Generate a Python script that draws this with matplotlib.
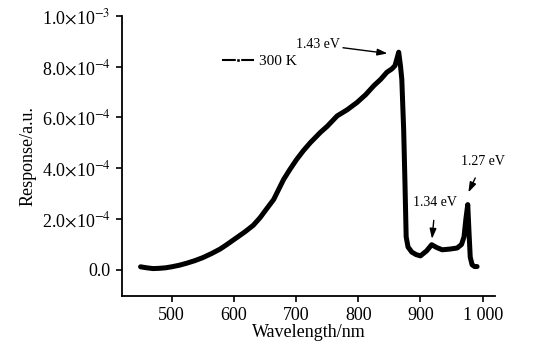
import numpy as np
import matplotlib
matplotlib.use("Agg")
import matplotlib.pyplot as plt
from matplotlib.lines import Line2D

plt.rcParams['font.family'] = ['Liberation Serif', 'DejaVu Serif']
plt.rcParams['mathtext.fontset'] = 'stix'

# spectral response at 300 K (values in units of 1e-4)
wavelength = [450, 460, 470, 480, 490, 500, 512, 524, 537, 550, 564, 578, 589, 600,
              618, 631, 642, 652, 664, 680, 690, 701, 712, 723, 739, 750, 766, 782,
              798, 812, 825, 836, 846, 854, 859, 862, 865, 868, 870, 873, 875, 877,
              880, 886, 893, 900, 910, 918, 926, 935, 948, 959, 966, 970, 973, 976,
              978, 980, 983, 987, 991]
response_e4 = [0.12, 0.08, 0.05, 0.06, 0.08, 0.12, 0.18, 0.26, 0.36, 0.48, 0.64, 0.82,
               1.00, 1.19, 1.50, 1.75, 2.05, 2.38, 2.77, 3.56, 3.95, 4.35, 4.70, 5.01,
               5.41, 5.65, 6.06, 6.30, 6.59, 6.90, 7.25, 7.50, 7.78, 7.91, 8.04, 8.30,
               8.57, 8.00, 7.50, 5.50, 3.50, 1.30, 0.90, 0.70, 0.60, 0.55, 0.75, 0.99,
               0.88, 0.79, 0.82, 0.86, 1.00, 1.30, 2.00, 2.57, 1.50, 0.50, 0.20, 0.13,
               0.13]
response = np.array(response_e4) * 1e-4

xticks = [500, 600, 700, 800, 900, 1000]
xticklabels = ['500', '600', '700', '800', '900', '1 000']
yticks = [0, 2e-4, 4e-4, 6e-4, 8e-4, 1e-3]
yticklabels = ['0.0', r'2.0$\times$10$^{-4}$', r'4.0$\times$10$^{-4}$',
               r'6.0$\times$10$^{-4}$', r'8.0$\times$10$^{-4}$', r'1.0$\times$10$^{-3}$']

# peak annotations: label, text position, arrow head position
peaks = [
    ('1.43 eV', (771, 8.87e-4), (847, 8.52e-4), 'right'),
    ('1.34 eV', (924, 2.64e-4), (918.6, 1.22e-4), 'center'),
    ('1.27 eV', (1001, 4.28e-4), (977, 3.05e-4), 'center'),
]

fig = plt.figure(figsize=(5.37, 3.45), dpi=100)
ax = fig.add_axes([0.227, 0.142, 0.695, 0.812])

ax.plot(wavelength, response, color='black', lw=3.6, solid_capstyle='round',
        solid_joinstyle='round')

ax.set_xlim(420, 1020)
ax.set_ylim(-1.03e-4, 1.0e-3)
ax.set_xticks(xticks)
ax.set_xticklabels(xticklabels)
ax.set_yticks(yticks)
ax.set_yticklabels(yticklabels)

for s in ['top', 'right']:
    ax.spines[s].set_visible(False)
for s in ['left', 'bottom']:
    ax.spines[s].set_linewidth(1.3)
ax.tick_params(direction='out', length=4, width=1.2, labelsize=13, pad=4)

ax.set_xlabel('Wavelength/nm', fontsize=13, labelpad=0)
ax.set_ylabel('Response/a.u.', fontsize=13, labelpad=4)

for label, txt, head, ha in peaks:
    shrink = 0 if ha == 'right' else 6
    ax.annotate(label, xy=head, xytext=txt, fontsize=10, ha=ha, va='center',
                arrowprops=dict(arrowstyle='-|>,head_length=0.6,head_width=0.2',
                                color='black', lw=1, shrinkA=shrink, shrinkB=0))

handle = Line2D([], [], color='black', lw=1.5, marker='s', markersize=3.5,
                markerfacecolor='black', markeredgecolor='white', markeredgewidth=1)
ax.legend([handle], ['300 K'], loc='center left', bbox_to_anchor=(0.27, 0.837),
          frameon=False, fontsize=11, handlelength=2.0, handletextpad=0.35,
          borderpad=0, borderaxespad=0)

fig.savefig('out.png', dpi=100)
